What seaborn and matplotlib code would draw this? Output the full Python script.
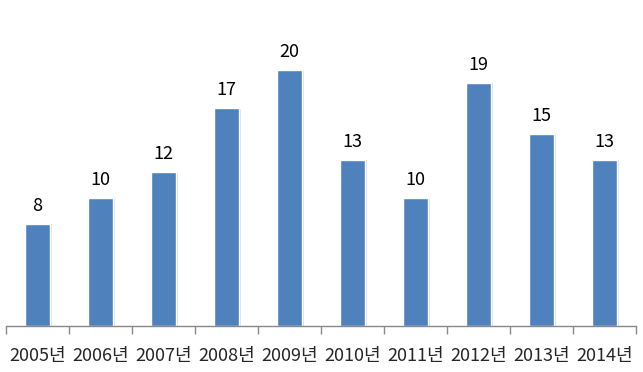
import matplotlib
matplotlib.use('Agg')
import matplotlib.pyplot as plt
import matplotlib.patheffects as pe
import seaborn as sns
import pandas as pd
import numpy as np

years = ['2005년', '2006년', '2007년', '2008년', '2009년',
         '2010년', '2011년', '2012년', '2013년', '2014년']
counts = [8, 10, 12, 17, 20, 13, 10, 19, 15, 13]

sns.set_style('white')
plt.rcParams['font.family'] = ['Noto Sans CJK KR', 'DejaVu Sans']

df = pd.DataFrame({'year': years, 'count': counts})

fig = plt.figure(figsize=(6.43, 3.72), dpi=100)
ax = fig.add_axes([6 / 643, 46 / 372, 630 / 643, 320 / 372])

sns.barplot(data=df, x='year', y='count', color='#4F81BD', width=0.40,
            saturation=1, ax=ax)

# light drop shadow like the office chart
for p in ax.patches:
    p.set_path_effects([pe.SimplePatchShadow(offset=(1.5, -0.5),
                                             shadow_rgbFace='#bfbfbf', alpha=0.5),
                        pe.Normal()])

for p, v in zip(ax.patches, counts):
    ax.text(p.get_x() + p.get_width() / 2, v + 0.7, str(v),
            ha='center', va='bottom', fontsize=13, color='black')

ax.set_xlim(-0.5, len(years) - 0.5)
ax.set_ylim(0, 25)
ax.set_xlabel('')
ax.set_ylabel('')
ax.set_yticks([])

for s in ['top', 'right', 'left']:
    ax.spines[s].set_visible(False)
ax.spines['bottom'].set_color('#898989')
ax.spines['bottom'].set_linewidth(1)

ax.set_xticks(np.arange(-0.5, len(years)), minor=True)
ax.tick_params(axis='x', which='minor', length=6, color='#898989', width=1,
               direction='out', bottom=True)
ax.tick_params(axis='x', which='major', length=0, labelsize=13, pad=15)

fig.savefig('out.png', dpi=100)
